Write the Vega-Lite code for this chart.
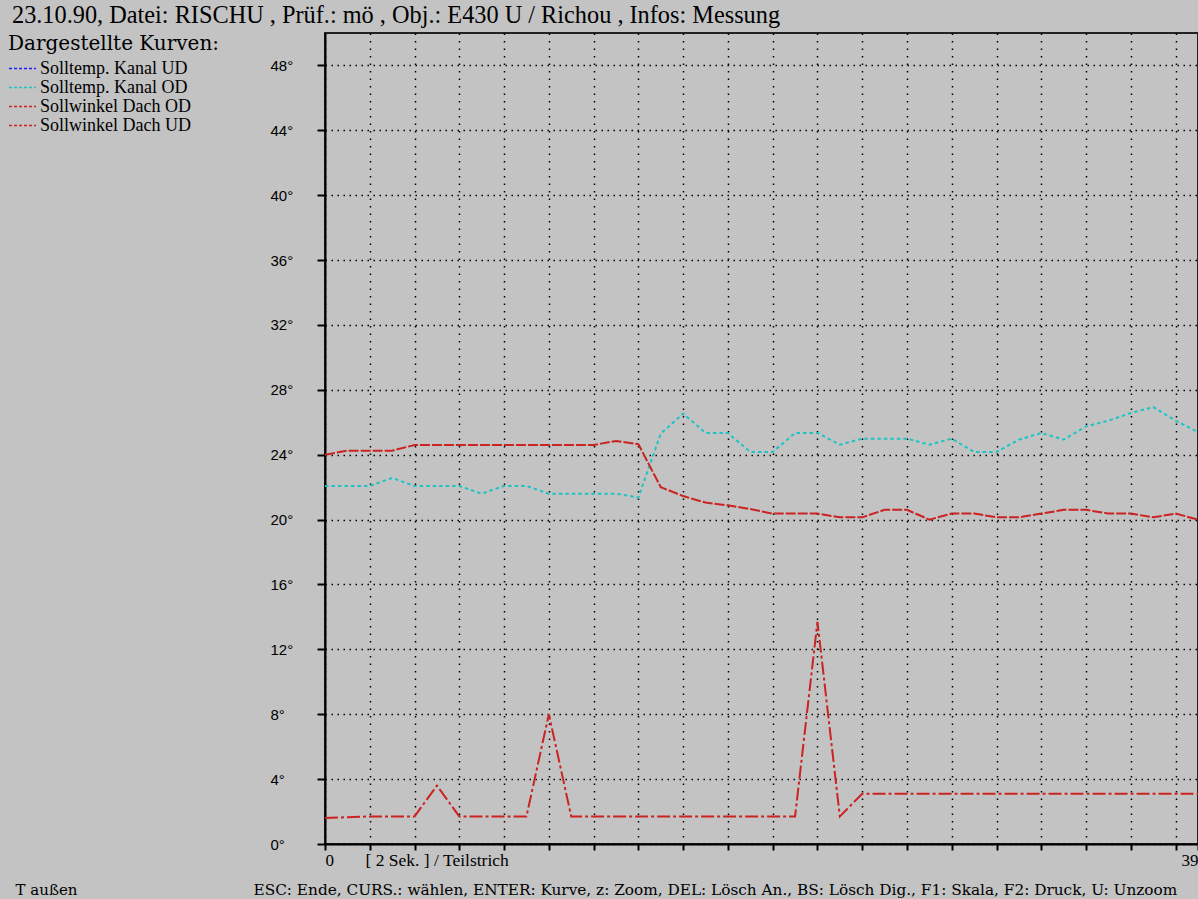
{
  "$schema": "https://vega.github.io/schema/vega-lite/v6.json",
  "width": 873,
  "height": 811,
  "autosize": {"type": "none"},
  "padding": {"left": 325, "top": 33, "right": 0, "bottom": 55},
  "background": "#c3c3c3",
  "config": {
    "view": {"stroke": "#222222", "strokeWidth": 2},
    "axis": {"domainColor": "#000000", "tickColor": "#000000", "labelColor": "#000000", "titleColor": "#000000", "gridOpacity": 1}
  },
  "title": {
    "text": "23.10.90, Datei: RISCHU  , Prüf.: mö , Obj.: E430 U / Richou , Infos: Messung",
    "anchor": "start", "frame": "group", "dx": -313, "dy": 22, "offset": 8,
    "font": "Liberation Serif", "fontSize": 24.3, "fontWeight": "normal", "color": "#000000",
    "baseline": "alphabetic", "limit": 1200
  },
  "data": {"values": [
    {"t":0,"v":22.07,"series":"Solltemp. Kanal OD"},{"t":1,"v":22.07,"series":"Solltemp. Kanal OD"},{"t":2,"v":22.07,"series":"Solltemp. Kanal OD"},{"t":3,"v":22.57,"series":"Solltemp. Kanal OD"},{"t":4,"v":22.07,"series":"Solltemp. Kanal OD"},{"t":5,"v":22.07,"series":"Solltemp. Kanal OD"},{"t":6,"v":22.07,"series":"Solltemp. Kanal OD"},{"t":7,"v":21.6,"series":"Solltemp. Kanal OD"},{"t":8,"v":22.07,"series":"Solltemp. Kanal OD"},{"t":9,"v":22.07,"series":"Solltemp. Kanal OD"},
    {"t":10,"v":21.6,"series":"Solltemp. Kanal OD"},{"t":11,"v":21.6,"series":"Solltemp. Kanal OD"},{"t":12,"v":21.6,"series":"Solltemp. Kanal OD"},{"t":13,"v":21.6,"series":"Solltemp. Kanal OD"},{"t":14,"v":21.36,"series":"Solltemp. Kanal OD"},{"t":15,"v":25.3,"series":"Solltemp. Kanal OD"},{"t":16,"v":26.53,"series":"Solltemp. Kanal OD"},{"t":17,"v":25.34,"series":"Solltemp. Kanal OD"},{"t":18,"v":25.34,"series":"Solltemp. Kanal OD"},{"t":19,"v":24.17,"series":"Solltemp. Kanal OD"},
    {"t":20,"v":24.17,"series":"Solltemp. Kanal OD"},{"t":21,"v":25.34,"series":"Solltemp. Kanal OD"},{"t":22,"v":25.34,"series":"Solltemp. Kanal OD"},{"t":23,"v":24.62,"series":"Solltemp. Kanal OD"},{"t":24,"v":24.99,"series":"Solltemp. Kanal OD"},{"t":25,"v":24.99,"series":"Solltemp. Kanal OD"},{"t":26,"v":24.99,"series":"Solltemp. Kanal OD"},{"t":27,"v":24.62,"series":"Solltemp. Kanal OD"},{"t":28,"v":24.99,"series":"Solltemp. Kanal OD"},{"t":29,"v":24.17,"series":"Solltemp. Kanal OD"},
    {"t":30,"v":24.17,"series":"Solltemp. Kanal OD"},{"t":31,"v":24.93,"series":"Solltemp. Kanal OD"},{"t":32,"v":25.34,"series":"Solltemp. Kanal OD"},{"t":33,"v":24.93,"series":"Solltemp. Kanal OD"},{"t":34,"v":25.75,"series":"Solltemp. Kanal OD"},{"t":35,"v":26.1,"series":"Solltemp. Kanal OD"},{"t":36,"v":26.57,"series":"Solltemp. Kanal OD"},{"t":37,"v":26.94,"series":"Solltemp. Kanal OD"},{"t":38,"v":26.1,"series":"Solltemp. Kanal OD"},{"t":39,"v":25.4,"series":"Solltemp. Kanal OD"},

    {"t":0,"v":24.0,"series":"Sollwinkel Dach OD"},{"t":1,"v":24.25,"series":"Sollwinkel Dach OD"},{"t":2,"v":24.25,"series":"Sollwinkel Dach OD"},{"t":3,"v":24.25,"series":"Sollwinkel Dach OD"},{"t":4,"v":24.6,"series":"Sollwinkel Dach OD"},{"t":5,"v":24.6,"series":"Sollwinkel Dach OD"},{"t":6,"v":24.6,"series":"Sollwinkel Dach OD"},{"t":7,"v":24.6,"series":"Sollwinkel Dach OD"},{"t":8,"v":24.6,"series":"Sollwinkel Dach OD"},{"t":9,"v":24.6,"series":"Sollwinkel Dach OD"},
    {"t":10,"v":24.6,"series":"Sollwinkel Dach OD"},{"t":11,"v":24.6,"series":"Sollwinkel Dach OD"},{"t":12,"v":24.6,"series":"Sollwinkel Dach OD"},{"t":13,"v":24.85,"series":"Sollwinkel Dach OD"},{"t":14,"v":24.65,"series":"Sollwinkel Dach OD"},{"t":15,"v":22.0,"series":"Sollwinkel Dach OD"},{"t":16,"v":21.45,"series":"Sollwinkel Dach OD"},{"t":17,"v":21.05,"series":"Sollwinkel Dach OD"},{"t":18,"v":20.88,"series":"Sollwinkel Dach OD"},{"t":19,"v":20.65,"series":"Sollwinkel Dach OD"},
    {"t":20,"v":20.37,"series":"Sollwinkel Dach OD"},{"t":21,"v":20.37,"series":"Sollwinkel Dach OD"},{"t":22,"v":20.37,"series":"Sollwinkel Dach OD"},{"t":23,"v":20.14,"series":"Sollwinkel Dach OD"},{"t":24,"v":20.14,"series":"Sollwinkel Dach OD"},{"t":25,"v":20.6,"series":"Sollwinkel Dach OD"},{"t":26,"v":20.6,"series":"Sollwinkel Dach OD"},{"t":27,"v":20.0,"series":"Sollwinkel Dach OD"},{"t":28,"v":20.37,"series":"Sollwinkel Dach OD"},{"t":29,"v":20.37,"series":"Sollwinkel Dach OD"},
    {"t":30,"v":20.14,"series":"Sollwinkel Dach OD"},{"t":31,"v":20.14,"series":"Sollwinkel Dach OD"},{"t":32,"v":20.37,"series":"Sollwinkel Dach OD"},{"t":33,"v":20.6,"series":"Sollwinkel Dach OD"},{"t":34,"v":20.6,"series":"Sollwinkel Dach OD"},{"t":35,"v":20.37,"series":"Sollwinkel Dach OD"},{"t":36,"v":20.37,"series":"Sollwinkel Dach OD"},{"t":37,"v":20.14,"series":"Sollwinkel Dach OD"},{"t":38,"v":20.37,"series":"Sollwinkel Dach OD"},{"t":39,"v":20.0,"series":"Sollwinkel Dach OD"},

    {"t":0,"v":1.6,"series":"Sollwinkel Dach UD"},{"t":1,"v":1.65,"series":"Sollwinkel Dach UD"},{"t":2,"v":1.7,"series":"Sollwinkel Dach UD"},{"t":3,"v":1.7,"series":"Sollwinkel Dach UD"},{"t":4,"v":1.7,"series":"Sollwinkel Dach UD"},{"t":5,"v":3.6,"series":"Sollwinkel Dach UD"},{"t":6,"v":1.7,"series":"Sollwinkel Dach UD"},{"t":7,"v":1.7,"series":"Sollwinkel Dach UD"},{"t":8,"v":1.7,"series":"Sollwinkel Dach UD"},{"t":9,"v":1.7,"series":"Sollwinkel Dach UD"},
    {"t":10,"v":8.0,"series":"Sollwinkel Dach UD"},{"t":11,"v":1.7,"series":"Sollwinkel Dach UD"},{"t":12,"v":1.7,"series":"Sollwinkel Dach UD"},{"t":13,"v":1.7,"series":"Sollwinkel Dach UD"},{"t":14,"v":1.7,"series":"Sollwinkel Dach UD"},{"t":15,"v":1.7,"series":"Sollwinkel Dach UD"},{"t":16,"v":1.7,"series":"Sollwinkel Dach UD"},{"t":17,"v":1.7,"series":"Sollwinkel Dach UD"},{"t":18,"v":1.7,"series":"Sollwinkel Dach UD"},{"t":19,"v":1.7,"series":"Sollwinkel Dach UD"},
    {"t":20,"v":1.7,"series":"Sollwinkel Dach UD"},{"t":21,"v":1.7,"series":"Sollwinkel Dach UD"},{"t":22,"v":13.7,"series":"Sollwinkel Dach UD"},{"t":23,"v":1.7,"series":"Sollwinkel Dach UD"},{"t":24,"v":3.1,"series":"Sollwinkel Dach UD"},{"t":25,"v":3.1,"series":"Sollwinkel Dach UD"},{"t":26,"v":3.1,"series":"Sollwinkel Dach UD"},{"t":27,"v":3.1,"series":"Sollwinkel Dach UD"},{"t":28,"v":3.1,"series":"Sollwinkel Dach UD"},{"t":29,"v":3.1,"series":"Sollwinkel Dach UD"},
    {"t":30,"v":3.1,"series":"Sollwinkel Dach UD"},{"t":31,"v":3.1,"series":"Sollwinkel Dach UD"},{"t":32,"v":3.1,"series":"Sollwinkel Dach UD"},{"t":33,"v":3.1,"series":"Sollwinkel Dach UD"},{"t":34,"v":3.1,"series":"Sollwinkel Dach UD"},{"t":35,"v":3.1,"series":"Sollwinkel Dach UD"},{"t":36,"v":3.1,"series":"Sollwinkel Dach UD"},{"t":37,"v":3.1,"series":"Sollwinkel Dach UD"},{"t":38,"v":3.1,"series":"Sollwinkel Dach UD"},{"t":39,"v":3.1,"series":"Sollwinkel Dach UD"}
  ]},
  "layer": [
    {
      "transform": [{"filter": "datum.series == 'Solltemp. Kanal OD'"}],
      "mark": {"type": "line", "strokeWidth": 2, "strokeDash": [3.5, 3]},
      "encoding": {
        "x": {
          "field": "t", "type": "quantitative",
          "scale": {"domain": [0, 39], "nice": false, "zero": false},
          "axis": {
            "values": [0,2,4,6,8,10,12,14,16,18,20,22,24,26,28,30,32,34,36,38,39],
            "labelExpr": "datum.value == 0 || datum.value == 39 ? datum.label : ''",
            "labelAlign": {"condition": {"test": "datum.value == 39", "value": "right"}, "value": "left"},
            "labelFont": "Liberation Serif", "labelFontSize": 17, "labelPadding": 2,
            "labelOverlap": false, "labelFlush": false,
            "tickSize": 6, "tickWidth": 2, "domainWidth": 2,
            "grid": true, "gridColor": "#000000", "gridDash": [1.5, 6], "gridWidth": 1.5,
            "title": "[ 2 Sek. ] / Teilstrich", "titleX": 40, "titleY": 21,
            "titleAlign": "left", "titleAnchor": "start", "titleBaseline": "alphabetic",
            "titleFont": "Liberation Serif", "titleFontSize": 17.5, "titleFontWeight": "normal", "titleLimit": 1200
          }
        },
        "y": {
          "field": "v", "type": "quantitative",
          "scale": {"domain": [0, 50], "nice": false, "zero": false},
          "axis": {
            "values": [0,4,8,12,16,20,24,28,32,36,40,44,48],
            "labelExpr": "datum.value + '°'",
            "labelFont": "Liberation Sans", "labelFontSize": 15, "labelAlign": "left", "labelPadding": 47,
            "tickSize": 8, "tickWidth": 2, "domainWidth": 2,
            "grid": true, "gridColor": "#000000", "gridDash": [1.5, 4.5], "gridWidth": 1.5,
            "title": "T außen", "titleAngle": 0, "titleX": -310, "titleY": 861,
            "titleAlign": "left", "titleBaseline": "alphabetic",
            "titleFont": "DejaVu Serif", "titleFontSize": 15, "titleFontWeight": "normal", "titleLimit": 400
          }
        },
        "color": {
          "field": "series", "type": "nominal",
          "scale": {
            "domain": ["Solltemp. Kanal UD", "Solltemp. Kanal OD", "Sollwinkel Dach OD", "Sollwinkel Dach UD"],
            "range": ["#1e1eff", "#1ec4c4", "#cc2222", "#cc2222"]
          },
          "legend": {
            "orient": "none", "legendX": -317, "legendY": 1,
            "title": "Dargestellte Kurven:", "titleFont": "DejaVu Serif", "titleFontSize": 20,
            "titleFontWeight": "normal", "titleColor": "#000000", "titlePadding": 5, "titleLimit": 400,
            "labelFont": "Liberation Serif", "labelFontSize": 18, "labelColor": "#000000", "labelOffset": 3, "labelLimit": 300,
            "symbolType": "stroke", "symbolSize": 729, "symbolStrokeWidth": 1.5, "symbolDash": [3, 2],
            "clipHeight": 19, "rowPadding": 0, "padding": 0, "direction": "vertical",
            "encode": {"symbols": {"update": {"strokeDash": {"value": [3, 2]}}}}
          }
        }
      }
    },
    {
      "transform": [{"filter": "datum.series == 'Sollwinkel Dach OD'"}],
      "mark": {"type": "line", "strokeWidth": 2, "strokeDash": [10, 2]},
      "encoding": {
        "x": {
          "field": "t", "type": "quantitative",
          "scale": {"domain": [0, 39], "nice": false, "zero": false},
          "axis": null
        },
        "y": {"field": "v", "type": "quantitative"},
        "color": {"field": "series", "type": "nominal"}
      }
    },
    {
      "transform": [{"filter": "datum.series == 'Sollwinkel Dach UD'"}],
      "mark": {"type": "line", "strokeWidth": 2, "strokeDash": [13, 3, 3, 3]},
      "encoding": {
        "x": {
          "field": "t", "type": "quantitative",
          "scale": {"domain": [0, 39], "nice": false, "zero": false},
          "axis": {
            "orient": "bottom", "labels": false, "ticks": false, "domain": false, "grid": false,
            "title": "ESC: Ende, CURS.: wählen, ENTER: Kurve, z: Zoom, DEL: Lösch An., BS: Lösch Dig., F1: Skala, F2: Druck, U: Unzoom",
            "titleX": -72, "titleY": 50, "titleAlign": "left", "titleAnchor": "start", "titleBaseline": "alphabetic",
            "titleFont": "DejaVu Serif", "titleFontSize": 15.3, "titleFontWeight": "normal", "titleLimit": 1200
          }
        },
        "y": {"field": "v", "type": "quantitative"},
        "color": {"field": "series", "type": "nominal"}
      }
    }
  ],
  "resolve": {"scale": {"x": "independent"}, "axis": {"x": "independent"}}
}
